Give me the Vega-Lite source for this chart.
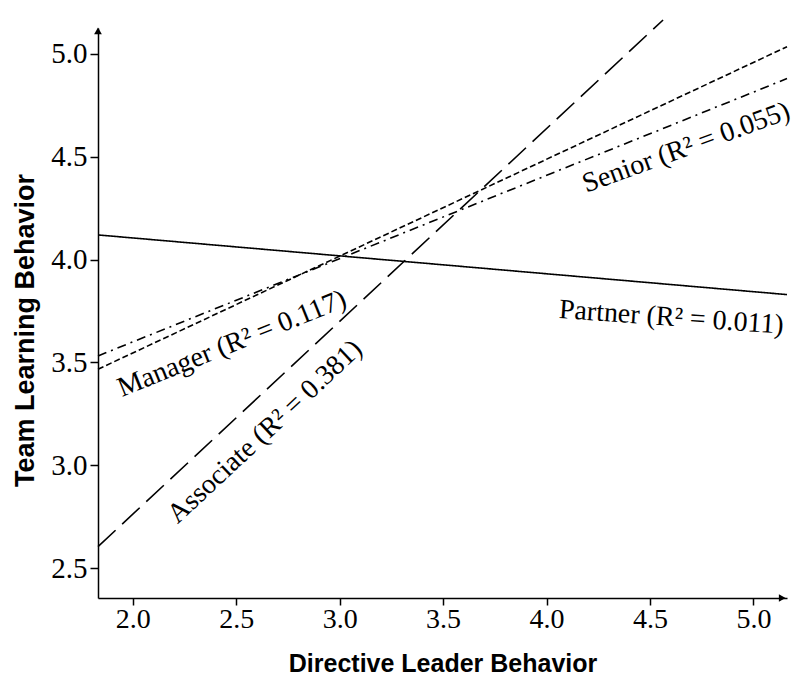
{
  "$schema": "https://vega.github.io/schema/vega-lite/v6.json",
  "width": 689,
  "height": 570,
  "autosize": {"type": "none"},
  "padding": {"left": 98, "top": 28, "right": 6, "bottom": 77},
  "background": "white",
  "config": {"view": {"stroke": null}},
  "datasets": {
    "lines": [
      {"group": "Partner", "x": 1.832, "y": 4.12},
      {"group": "Partner", "x": 5.162, "y": 3.83},
      {"group": "Manager", "x": 1.832, "y": 3.467},
      {"group": "Manager", "x": 5.162, "y": 5.035},
      {"group": "Senior", "x": 1.832, "y": 3.532},
      {"group": "Senior", "x": 5.162, "y": 4.88},
      {"group": "Associate", "x": 1.832, "y": 2.605},
      {"group": "Associate", "x": 4.563, "y": 5.165}
    ],
    "labels": [
      {"group": "Manager", "label": "Manager (R² = 0.117)", "x": 2.48, "y": 3.59},
      {"group": "Associate", "label": "Associate (R² = 0.381)", "x": 2.64, "y": 3.162},
      {"group": "Senior", "label": "Senior (R² = 0.055)", "x": 4.675, "y": 4.543},
      {"group": "Partner", "label": "Partner (R² = 0.011)", "x": 4.603, "y": 3.717}
    ],
    "arrows": [
      {"dir": "right", "x": 5.139, "y": 2.355},
      {"dir": "up", "x": 1.832, "y": 5.112}
    ]
  },
  "encoding": {
    "x": {
      "field": "x",
      "type": "quantitative",
      "scale": {"domain": [1.832, 5.162], "nice": false, "zero": false},
      "axis": {
        "values": [2, 2.5, 3, 3.5, 4, 4.5, 5],
        "format": ".1f",
        "title": "Directive Leader Behavior",
        "titleFont": "Liberation Sans",
        "titleFontWeight": "bold",
        "titleFontSize": 25,
        "titleColor": "black",
        "titleY": 65,
        "titleBaseline": "middle",
        "labelFont": "Liberation Serif",
        "labelFontSize": 28,
        "labelColor": "black",
        "labelPadding": 0,
        "labelFlush": false,
        "tickColor": "black",
        "tickSize": 7,
        "tickWidth": 1.5,
        "domainColor": "black",
        "domainWidth": 1.5,
        "grid": false
      }
    },
    "y": {
      "field": "y",
      "type": "quantitative",
      "scale": {"domain": [2.355, 5.126], "nice": false, "zero": false},
      "axis": {
        "values": [2.5, 3, 3.5, 4, 4.5, 5],
        "format": ".1f",
        "title": "Team Learning Behavior",
        "titleFont": "Liberation Sans",
        "titleFontWeight": "bold",
        "titleFontSize": 27,
        "titleColor": "black",
        "titleX": -73,
        "titleY": 302,
        "titleAlign": "center",
        "titleBaseline": "middle",
        "labelFont": "Liberation Serif",
        "labelFontSize": 29,
        "labelColor": "black",
        "labelPadding": 3,
        "labelFlush": false,
        "tickColor": "black",
        "tickSize": 8,
        "tickWidth": 1.5,
        "domainColor": "black",
        "domainWidth": 1.5,
        "grid": false
      }
    }
  },
  "layer": [
    {
      "data": {"name": "lines"},
      "mark": {"type": "line", "color": "black", "strokeWidth": 1.6, "clip": false},
      "encoding": {
        "detail": {"field": "group", "type": "nominal"},
        "strokeDash": {
          "field": "group",
          "type": "nominal",
          "scale": {
            "domain": ["Partner", "Manager", "Senior", "Associate"],
            "range": [[1, 0], [6, 3], [9, 5, 2, 5], [24, 9]]
          },
          "legend": null
        }
      }
    },
    {
      "data": {"name": "labels"},
      "transform": [{"filter": "datum.group === 'Manager'"}],
      "mark": {"type": "text", "font": "Liberation Serif", "fontSize": 28, "color": "black", "align": "center", "baseline": "middle", "angle": 338},
      "encoding": {"text": {"field": "label"}}
    },
    {
      "data": {"name": "labels"},
      "transform": [{"filter": "datum.group === 'Associate'"}],
      "mark": {"type": "text", "font": "Liberation Serif", "fontSize": 28, "color": "black", "align": "center", "baseline": "middle", "angle": 317},
      "encoding": {"text": {"field": "label"}}
    },
    {
      "data": {"name": "labels"},
      "transform": [{"filter": "datum.group === 'Senior'"}],
      "mark": {"type": "text", "font": "Liberation Serif", "fontSize": 28, "color": "black", "align": "center", "baseline": "middle", "angle": 340},
      "encoding": {"text": {"field": "label"}}
    },
    {
      "data": {"name": "labels"},
      "transform": [{"filter": "datum.group === 'Partner'"}],
      "mark": {"type": "text", "font": "Liberation Serif", "fontSize": 28, "color": "black", "align": "center", "baseline": "middle", "angle": 4},
      "encoding": {"text": {"field": "label"}}
    },
    {
      "data": {"name": "arrows"},
      "transform": [{"filter": "datum.dir === 'right'"}],
      "mark": {"type": "point", "shape": "triangle-right", "filled": true, "color": "black", "size": 60, "opacity": 1, "clip": false},
      "encoding": {}
    },
    {
      "data": {"name": "arrows"},
      "transform": [{"filter": "datum.dir === 'up'"}],
      "mark": {"type": "point", "shape": "triangle-up", "filled": true, "color": "black", "size": 60, "opacity": 1, "clip": false},
      "encoding": {}
    }
  ]
}
